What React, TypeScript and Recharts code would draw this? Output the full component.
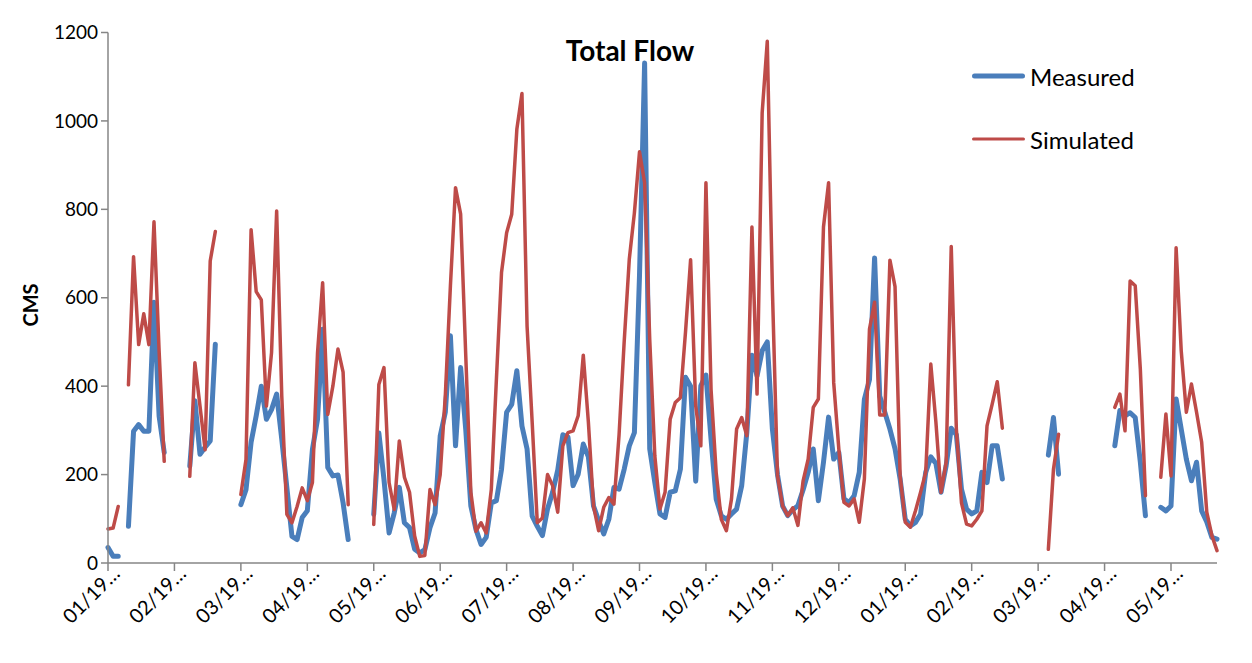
import React from 'react'
import { LineChart, Line, XAxis, YAxis } from 'recharts'

// one label every 13 months, truncated like the source sheet
const MONTH_TICKS = [
  '01/19…', '02/19…', '03/19…', '04/19…', '05/19…', '06/19…', '07/19…', '08/19…', '09/19…',
  '10/19…', '11/19…', '12/19…', '01/19…', '02/19…', '03/19…', '04/19…', '05/19…',
]

const Y_TICKS = [0, 200, 400, 600, 800, 1000, 1200]

// monthly flows (CMS), null = no record
const MEASURED: (number | null)[] = [
  35, 15, 15, null, 83, 298, 313, 298, 298, 590,
  332, 250, null, null, null, null, 219, 367, 246, 262,
  276, 495, null, null, null, null, 132, 166, 273, 333,
  400, 325, 347, 382, 280, 170, 60, 53, 103, 118,
  257, 325, 529, 216, 197, 199, 136, 53, null, null,
  null, null, 110, 294, 189, 68, 113, 171, 91, 80,
  31, 23, 30, 80, 113, 287, 341, 514, 265, 442,
  302, 129, 76, 42, 58, 136, 141, 212, 341, 359,
  435, 310, 258, 106, 83, 62, 122, 160, 210, 290,
  285, 175, 201, 269, 240, 129, 96, 66, 99, 171,
  167, 212, 265, 295, 650, 1131, 258, 182, 111, 103,
  160, 163, 212, 420, 400, 185, 401, 425, 280, 145,
  107, 99, 111, 122, 175, 295, 470, 423, 480, 500,
  303, 200, 129, 107, 120, 130, 165, 205, 258, 141,
  228, 330, 235, 250, 145, 137, 152, 205, 370, 415,
  690, 378, 341, 303, 258, 190, 99, 84, 92, 111,
  205, 240, 225, 160, 220, 305, 290, 167, 122, 111,
  118, 205, 182, 265, 265, 190, null, null, null, null,
  null, null, null, null, 244, 329, 201, null, null, null,
  null, null, null, null, null, null, null, 265, 345, 333,
  340, 329, 228, 107, null, null, 126, 118, 129, 371,
  303, 235, 186, 228, 118, 93, 58, 54,
]

const SIMULATED: (number | null)[] = [
  77, 79, 128, null, 403, 693, 494, 564, 494, 772,
  480, 230, null, null, null, null, 196, 453, 355, 256,
  683, 750, null, null, null, null, 155, 234, 754, 614,
  595, 355, 476, 796, 378, 110, 91, 128, 170, 141,
  182, 476, 634, 336, 400, 484, 432, 132, null, null,
  null, null, 87, 404, 442, 182, 121, 276, 194, 160,
  61, 15, 17, 166, 132, 200, 378, 627, 849, 789,
  470, 160, 72, 91, 68, 166, 416, 657, 747, 789,
  981, 1062, 536, 318, 91, 102, 200, 175, 115, 265,
  295, 299, 333, 470, 318, 129, 73, 126, 148, 133,
  290, 500, 687, 792, 930, 860, 506, 242, 122, 160,
  325, 363, 374, 522, 686, 355, 265, 860, 393, 205,
  99, 73, 145, 303, 329, 288, 760, 382, 1018, 1180,
  620, 197, 129, 107, 125, 85, 185, 235, 352, 371,
  760, 860, 408, 258, 137, 129, 145, 92, 190, 529,
  590, 335, 335, 685, 625, 197, 92, 81, 118, 160,
  205, 450, 318, 160, 228, 716, 303, 136, 88, 84,
  99, 118, 310, 359, 410, 305, null, null, null, null,
  null, null, null, null, 31, 212, 291, null, null, null,
  null, null, null, null, null, null, null, 352, 382, 299,
  638, 627, 438, 152, null, null, 194, 337, 197, 713,
  480, 341, 405, 341, 273, 115, 62, 28,
]

const BLUE = '#4A7EBB'
const RED = '#BE4B48'
const AXIS = '#868686'
const FONT = 'Lato, "Open Sans", sans-serif'

const data = MEASURED.map((m, i) => ({ idx: i, measured: m, simulated: SIMULATED[i] }))

function MonthTick({ x, y, payload }: any) {
  const label = MONTH_TICKS[Math.round(payload.value / 13)] ?? ''
  const ax = x + 13
  const ay = y + 2
  return (
    <text
      x={ax}
      y={ay}
      transform={`rotate(-45 ${ax} ${ay})`}
      textAnchor="end"
      fontSize={20}
      fontFamily={FONT}
      fill="#000"
    >
      {label}
    </text>
  )
}

export default function App() {
  return (
    <div style={{ position: 'relative', width: 1236, height: 647, fontFamily: FONT }}>
      <div style={{ position: 'absolute', left: -1, top: -8, height: 663, borderLeft: `1px solid ${AXIS}` }} />

      <LineChart width={1236} height={647} data={data} margin={{ top: 24.5, right: 27, bottom: 0, left: 0 }}>
        <XAxis
          dataKey="idx"
          type="category"
          scale="point"
          interval={12}
          height={92}
          tickSize={8}
          tickMargin={2}
          padding={{ left: 0, right: 0 }}
          axisLine={{ stroke: AXIS, strokeWidth: 1.5 }}
          tickLine={{ stroke: AXIS, strokeWidth: 1.5 }}
          tick={<MonthTick />}
        />
        <YAxis
          type="number"
          domain={[0, 1200]}
          ticks={Y_TICKS}
          width={100}
          tickSize={7}
          tickMargin={3}
          axisLine={{ stroke: AXIS, strokeWidth: 1.5 }}
          tickLine={{ stroke: AXIS, strokeWidth: 1.5 }}
          tick={{ fill: '#000', fontSize: 19, fontFamily: FONT }}
        />
        <Line
          type="linear"
          dataKey="measured"
          stroke={BLUE}
          strokeWidth={5}
          strokeLinejoin="round"
          strokeLinecap="round"
          dot={false}
          activeDot={false}
          isAnimationActive={false}
        />
        <Line
          type="linear"
          dataKey="simulated"
          stroke={RED}
          strokeWidth={3.5}
          strokeLinejoin="round"
          strokeLinecap="round"
          dot={false}
          activeDot={false}
          isAnimationActive={false}
        />
      </LineChart>

      <div
        style={{
          position: 'absolute',
          left: 622,
          top: 42,
          transform: 'translate(-50%, -50%)',
          fontSize: 28,
          fontWeight: 700,
          whiteSpace: 'nowrap',
        }}
      >
        Total Flow
      </div>

      <div
        style={{
          position: 'absolute',
          left: 22,
          top: 297,
          transform: 'translate(-50%, -50%) rotate(-90deg)',
          fontSize: 20,
          fontWeight: 700,
        }}
      >
        CMS
      </div>

      {[
        { name: 'Measured', color: BLUE, width: 5, top: 68 },
        { name: 'Simulated', color: RED, width: 3.5, top: 131 },
      ].map((item) => (
        <div
          key={item.name}
          style={{ position: 'absolute', left: 964, top: item.top, display: 'flex', alignItems: 'center', transform: 'translateY(-50%)' }}
        >
          <div style={{ width: 53, height: item.width, background: item.color, borderRadius: 3 }} />
          <span style={{ marginLeft: 5, fontSize: 24 }}>{item.name}</span>
        </div>
      ))}
    </div>
  )
}
